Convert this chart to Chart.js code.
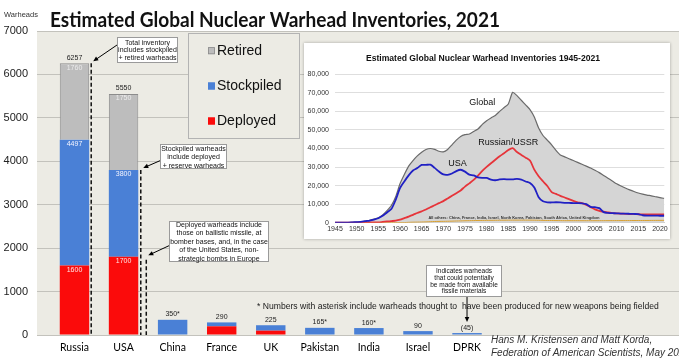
<!DOCTYPE html>
<html><head><meta charset="utf-8">
<script src="https://cdn.jsdelivr.net/npm/chart.js@4.4.1/dist/chart.umd.min.js"></script>
<style>
html,body{margin:0;padding:0;background:#fff;}
#wrap{position:relative;width:679px;height:358px;overflow:hidden;}
#main{position:absolute;left:0;top:0;}
#insetBox{position:absolute;left:304px;top:43px;width:366px;height:196px;background:#fff;box-shadow:0 0 3px rgba(0,0,0,0.3);}
#inset{position:absolute;left:304px;top:43px;}
</style></head><body>
<div id="wrap">
<canvas id="main" width="679" height="358"></canvas>
<div id="insetBox"></div>
<canvas id="inset" width="375" height="196"></canvas>
</div>
<script>
// ---------- main chart data ----------
const countries  = ['Russia','USA','China','France','UK','Pakistan','India','Israel','DPRK'];
const deployed   = [1600, 1800, 0, 200, 100, 0, 0, 0, 0];
const stockpiled = [4497, 3800, 350, 290, 225, 165, 160, 90, 45];
const retired    = [1760, 1750, 0, 0, 0, 0, 0, 0, 0];
const topLabels        = ['6257','5550','350*','290','225','165*','160*','90','(45)'];
const retiredLabels    = ['1760','1750'];
const stockpiledLabels = ['4497','3800'];
const deployedLabels   = ['1600','1700'];
const yMax = 7000, yStep = 1000;

// ---------- inset chart data (1945-2021) ----------
const years = Array.from({length: 77}, (_, i) => 1945 + i);
const xTickYears = [1945,1950,1955,1960,1965,1970,1975,1980,1985,1990,1995,2000,2005,2010,2015,2020];
const globalInv = [2,9,13,50,171,304,463,893,1300,1900,2700,4200,6500,9200,14000,21000,26000,30500,33500,36000,
  38000,39500,40000,39500,38500,38200,39500,42000,44500,46500,47500,47800,49200,50500,53000,55000,56500,57800,60000,62000,
  64000,70300,68500,66000,63500,61000,57000,51000,47000,44500,42000,39000,36500,35500,34500,33500,32500,31500,30500,29500,
  28300,27000,25500,24000,22500,21000,19800,18700,17700,16800,16000,15400,14900,14500,14000,13500,13100];
const usaInv = [2,9,13,50,170,299,438,841,1169,1703,2422,3692,5543,7345,12298,18638,22229,25540,28133,29463,
  31139,31175,31255,29561,27552,26008,25830,26516,27835,28537,27519,25914,25542,24418,24138,24104,23208,22886,23305,23459,
  23368,23317,23575,23205,22217,21392,19008,13708,11511,10979,10904,11011,10903,10732,10685,10577,10526,10457,10027,8570,
  8360,7853,5709,5273,5113,5066,4897,4881,4804,4717,4571,4018,3822,3785,3805,3750,3750];
const russiaInv = [0,0,0,0,1,5,25,50,120,150,200,426,660,869,1060,1605,2471,3322,4238,5221,
  6129,7089,8339,9399,10538,11643,13092,14478,15915,17385,19443,21205,23044,25393,27935,30062,32049,33952,35804,37431,
  39197,40159,38107,36538,35078,33486,28590,25065,22334,19799,16500,15500,14500,13600,12700,11800,11000,10500,9600,8400,
  7200,6400,5900,5500,5200,5000,4900,4800,4700,4600,4550,4500,4500,4490,4490,4500,4497];
const othersInv = [0,0,0,0,0,0,0,1,1,5,10,15,20,22,25,30,50,205,280,311,
  367,435,535,640,700,730,780,840,910,980,1050,1100,1150,1200,1220,1250,1280,1300,1320,1340,
  1360,1380,1380,1380,1380,1380,1350,1300,1250,1200,1180,1150,1120,1100,1100,1100,1090,1080,1080,1080,
  1080,1090,1100,1110,1120,1130,1140,1150,1160,1170,1180,1190,1200,1220,1240,1260,1280];

// ---------- texts ----------
const mainTitle = 'Estimated Global Nuclear Warhead Inventories, 2021';
const insetTitle = 'Estimated Global Nuclear Warhead Inventories 1945-2021';
const note1 = ['Total inventory','includes stockpiled','+ retired warheads'];
const note2 = ['Stockpiled warheads','include deployed','+ reserve warheads'];
const note3 = ['Deployed warheads include','those on ballistic missile, at','bomber bases, and, in the case','of the United States, non-','strategic bombs in Europe'];
const note4 = ['Indicates warheads','that could potentially','be made from available','fissile materials'];
const footnote = '* Numbers with asterisk include warheads thought to  have been produced for new weapons being fielded';
const credit = ['Hans M. Kristensen and Matt Korda,','Federation of American Scientists, May 2021'];
const othersNote = 'All others: China, France, India, Israel, North Korea, Pakistan, South Africa, United Kingdom';

const BG = '#ecebe4', GRID = '#c3c2bc';
const RED = '#fb0b0b', BLUE = '#4a80d6', GRAY = '#bdbdbd';

function txt(ctx, s, x, y, font, color, align, base, maxW){
  ctx.font = font; ctx.fillStyle = color; ctx.textAlign = align || 'center'; ctx.textBaseline = base || 'middle';
  if (maxW) ctx.fillText(s, x, y, maxW); else ctx.fillText(s, x, y);
}
function arrow(ctx, x1, y1, x2, y2){
  const a = Math.atan2(y2 - y1, x2 - x1), L = 5, W = 2.3;
  ctx.strokeStyle = '#000'; ctx.fillStyle = '#000'; ctx.lineWidth = 1; ctx.setLineDash([]);
  ctx.beginPath(); ctx.moveTo(x1, y1); ctx.lineTo(x2 - Math.cos(a) * L * 0.8, y2 - Math.sin(a) * L * 0.8); ctx.stroke();
  ctx.beginPath(); ctx.moveTo(x2, y2);
  ctx.lineTo(x2 - L * Math.cos(a) + W * Math.sin(a), y2 - L * Math.sin(a) - W * Math.cos(a));
  ctx.lineTo(x2 - L * Math.cos(a) - W * Math.sin(a), y2 - L * Math.sin(a) + W * Math.cos(a));
  ctx.closePath(); ctx.fill();
}
function note(ctx, x, y, w, h, lines, firstY, lh, font){
  ctx.fillStyle = '#fff'; ctx.fillRect(x, y, w, h);
  ctx.strokeStyle = '#9a9a9a'; ctx.lineWidth = 1; ctx.setLineDash([]);
  ctx.strokeRect(x + 0.5, y + 0.5, w - 1, h - 1);
  lines.forEach((l, k) => txt(ctx, l, x + w / 2, firstY + k * lh, font, '#111'));
}
function dashed(ctx, x, y1, y2){
  ctx.save(); ctx.strokeStyle = '#111'; ctx.lineWidth = 1.5; ctx.setLineDash([4, 2.5]);
  ctx.beginPath(); ctx.moveTo(x, y1); ctx.lineTo(x, y2); ctx.stroke(); ctx.restore();
}

const pts = arr => arr.map((v, i) => ({x: i, y: v}));
const reserve = stockpiled.map((v, i) => v - deployed[i]);

const mainPlugin = {
  id: 'mainDeco',
  beforeDraw(chart){
    const {ctx, chartArea: a} = chart;
    ctx.save(); ctx.fillStyle = BG; ctx.fillRect(a.left, a.top, a.right - a.left, a.bottom - a.top); ctx.restore();
  },
  afterDraw(chart){
    const ctx = chart.ctx, ys = chart.scales.y;
    const bars = chart.getDatasetMeta(1).data;
    ctx.save();
    txt(ctx, mainTitle, 50, 27, 'bold 21px Lato', '#111', 'left', 'alphabetic', 450);
    txt(ctx, 'Warheads', 4, 17, '7.5px "Liberation Sans"', '#333', 'left', 'alphabetic');
    countries.forEach((c, i) => {
      const bx = bars[i].x;
      const total = stockpiled[i] + retired[i];
      txt(ctx, topLabels[i], bx, ys.getPixelForValue(total) - 3.5, '7px "Liberation Sans"', '#222', 'center', 'alphabetic');
      if (retiredLabels[i]) txt(ctx, retiredLabels[i], bx, ys.getPixelForValue(total) + 4.5, '7px "Liberation Sans"', '#ececec');
      if (stockpiledLabels[i]) txt(ctx, stockpiledLabels[i], bx, ys.getPixelForValue(stockpiled[i]) + 4.5, '7px "Liberation Sans"', '#f4f4ff');
      if (deployedLabels[i]) txt(ctx, deployedLabels[i], bx, ys.getPixelForValue(deployed[i]) + 4.5, '7px "Liberation Sans"', '#ffe6e6');
    });
    const y0 = ys.getPixelForValue(0);
    const rRight = bars[0].x + bars[0].width / 2, uRight = bars[1].x + bars[1].width / 2;
    const yRus = ys.getPixelForValue(stockpiled[0] + retired[0]);
    const yUsaS = ys.getPixelForValue(stockpiled[1]);
    const yUsaD = ys.getPixelForValue(deployed[1]);
    dashed(ctx, rRight + 2, yRus, y0);
    dashed(ctx, uRight + 2.5, yUsaS, y0);
    dashed(ctx, uRight + 8, yUsaD + 3, y0);
    note(ctx, 117, 37, 61, 26, note1, 42.6, 7.6, '7px "Liberation Sans"');
    arrow(ctx, 117, 45, rRight + 4, yRus - 2);
    note(ctx, 160, 144, 67, 25, note2, 149, 8.3, '7px "Liberation Sans"');
    arrow(ctx, 160, 160.7, uRight + 5, yUsaS - 2);
    note(ctx, 169, 221, 100, 41, note3, 225.2, 8.35, '7px "Liberation Sans"');
    arrow(ctx, 169, 245.7, uRight + 10, yUsaD - 1.5);
    txt(ctx, footnote, 257, 307, '8.6px "Liberation Sans"', '#1a1a1a', 'left', 'middle', 416);
    note(ctx, 426, 265, 76, 32, note4, 271, 6.9, '6.5px "Liberation Sans"');
    const dx = bars[8].x;
    arrow(ctx, dx, 297, dx, ys.getPixelForValue(stockpiled[8]) - 11);
    // legend
    ctx.fillStyle = BG; ctx.fillRect(188, 33, 112, 106);
    ctx.strokeStyle = '#b3b3b3'; ctx.lineWidth = 1; ctx.strokeRect(188.5, 33.5, 111, 105);
    const leg = [[chart.data.datasets[2], 50.7], [chart.data.datasets[1], 86], [chart.data.datasets[0], 121]];
    leg.forEach(([ds, ly]) => {
      ctx.fillStyle = ds.backgroundColor; ctx.fillRect(208, ly - 3.5, 7, 7);
      ctx.strokeStyle = ds.label === 'Retired' ? '#8a8a8a' : ds.backgroundColor; ctx.lineWidth = 0.8;
      ctx.strokeRect(208.4, ly - 3.1, 6.2, 6.2);
      txt(ctx, ds.label, 217, ly, '14px "Liberation Sans"', '#111', 'left', 'middle');
    });
    txt(ctx, credit[0], 491, 342.5, 'italic 10px "Liberation Sans"', '#333', 'left', 'alphabetic');
    txt(ctx, credit[1], 491, 355.5, 'italic 10px "Liberation Sans"', '#333', 'left', 'alphabetic');
    ctx.restore();
  }
};

new Chart(document.getElementById('main'), {
  type: 'bar',
  data: { datasets: [
    {label: 'Deployed', data: pts(deployed), backgroundColor: RED, barPercentage: 0.6, categoryPercentage: 1},
    {label: 'Stockpiled', data: pts(reserve), backgroundColor: BLUE, barPercentage: 0.6, categoryPercentage: 1},
    {label: 'Retired', data: pts(retired), backgroundColor: GRAY, borderColor: '#8c8c8c', borderWidth: 1, barPercentage: 0.6, categoryPercentage: 1}
  ]},
  options: {
    responsive: false, animation: false,
    layout: {padding: {top: 31, left: 0, right: 0, bottom: 0}},
    plugins: {legend: {display: false}, tooltip: {enabled: false}, title: {display: false}},
    scales: {
      x: {type: 'linear', stacked: true, offset: false, min: -0.764, max: 12.32,
          afterBuildTicks: s => { s.ticks = countries.map((c, i) => ({value: i})); },
          ticks: {callback: v => countries[v], font: {family: 'Lato', size: 10.5}, color: '#000', padding: 6, maxRotation: 0, autoSkip: false},
          grid: {display: false, drawTicks: false, offset: false}, border: {display: false},
          afterFit: s => { s.height = 23; }},
      y: {stacked: true, min: 0, max: yMax,
          ticks: {stepSize: yStep, padding: 9, font: {family: 'Liberation Sans', size: 11}, color: '#222', callback: v => String(v)},
          grid: {color: GRID, drawTicks: false}, border: {display: false},
          afterFit: s => { s.width = 37; }}
    }
  },
  plugins: [mainPlugin]
});

// ---------- inset ----------
const insetPlugin = {
  id: 'insetDeco',
  afterDraw(chart){
    const ctx = chart.ctx, xs = chart.scales.x, ys = chart.scales.y;
    ctx.save();
    txt(ctx, insetTitle, 179, 15.5, 'bold 8.6px "Liberation Sans"', '#111', 'center', 'middle', 258);
    txt(ctx, 'Global', xs.getPixelForValue(1979), ys.getPixelForValue(65000), '9px "Liberation Sans"', '#111');
    txt(ctx, 'Russian/USSR', xs.getPixelForValue(1985), ys.getPixelForValue(43000), '9px "Liberation Sans"', '#111');
    txt(ctx, 'USA', xs.getPixelForValue(1973.3), ys.getPixelForValue(32000), '9px "Liberation Sans"', '#111');
    txt(ctx, othersNote, xs.getPixelForValue(1986.3), ys.getPixelForValue(2600), 'bold 4px "Liberation Sans"', '#333', 'center', 'middle', 171);
    ctx.restore();
  }
};
const ser = arr => years.map((y, i) => ({x: y, y: arr[i]}));
new Chart(document.getElementById('inset'), {
  type: 'line',
  data: { datasets: [
    {label: 'USA', data: ser(usaInv), borderColor: '#2020c4', borderWidth: 1.8, pointRadius: 0, tension: 0.25, fill: false, order: 1},
    {label: 'Russian/USSR', data: ser(russiaInv), borderColor: '#e6343a', borderWidth: 1.8, pointRadius: 0, tension: 0.25, fill: false, order: 2},
    {label: 'All others', data: ser(othersInv), borderColor: '#d9a030', borderWidth: 1, pointRadius: 0, tension: 0.25, fill: false, order: 3},
    {label: 'Global', data: ser(globalInv), borderColor: '#6a6a6a', borderWidth: 1.2, backgroundColor: '#d5d5d5', pointRadius: 0, tension: 0.2, fill: 'origin', order: 4}
  ]},
  options: {
    responsive: false, animation: false,
    layout: {padding: {top: 31.3, right: 14.7, left: 0, bottom: 0}},
    plugins: {legend: {display: false}, tooltip: {enabled: false}},
    scales: {
      x: {type: 'linear', min: 1945, max: 2021,
          afterBuildTicks: s => { s.ticks = xTickYears.map(v => ({value: v})); },
          ticks: {callback: v => String(v), font: {family: 'Liberation Sans', size: 7}, color: '#333', padding: 2, maxRotation: 0, autoSkip: false},
          grid: {display: false, drawTicks: false}, border: {color: '#cfcfcf'},
          afterFit: s => { s.height = 16.3; }},
      y: {min: 0, max: 80000,
          ticks: {stepSize: 10000, font: {family: 'Liberation Sans', size: 7}, color: '#333', padding: 6},
          grid: {color: '#dedede', drawTicks: false}, border: {display: false},
          afterFit: s => { s.width = 31; }}
    }
  },
  plugins: [insetPlugin]
});
</script>
</body></html>
